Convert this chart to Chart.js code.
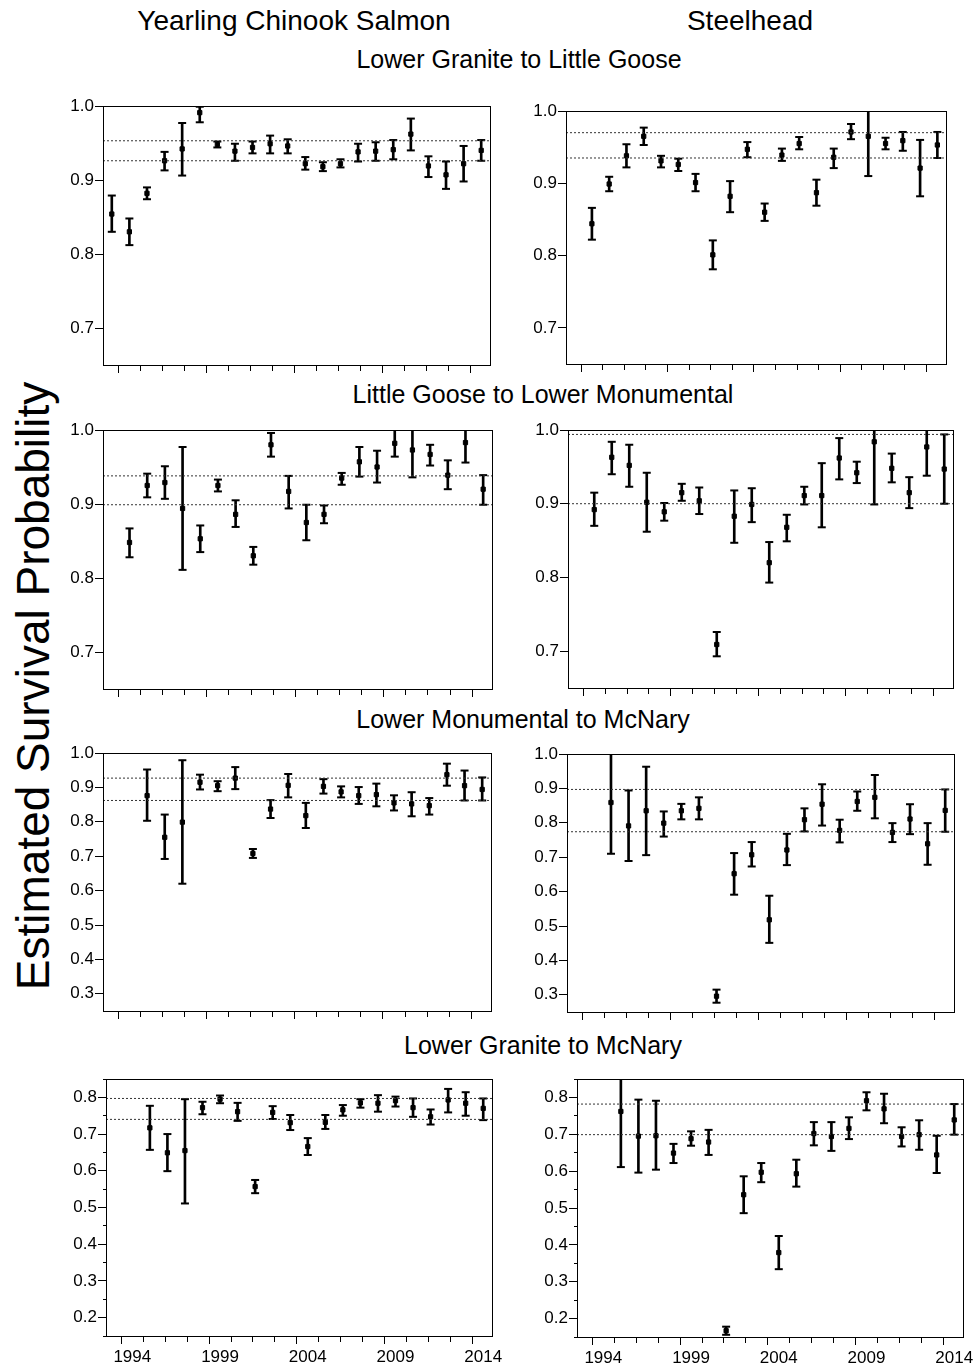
<!DOCTYPE html>
<html>
<head>
<meta charset="utf-8">
<title>Estimated survival probability</title>
<script src="https://cdn.jsdelivr.net/npm/chart.js@4.4.1/dist/chart.umd.min.js"></script>
<style>
  body { margin: 0; background: #fff; }
  #page { position: relative; width: 978px; height: 1368px; overflow: hidden;
          font-family: 'Liberation Sans', Arial, sans-serif; color: #000; }
  .lbl { position: absolute; white-space: nowrap; transform: translate(-50%, -50%); }
  #ylab { transform: translate(-50%, -50%) rotate(-90deg); }
  canvas { position: absolute; }
</style>
</head>
<body>
<div id="page">
  <div class="lbl" style="left:294px;top:21px;font-size:28px">Yearling Chinook Salmon</div>
  <div class="lbl" style="left:750px;top:21px;font-size:28px">Steelhead</div>
  <div class="lbl" style="left:519px;top:59px;font-size:25px">Lower Granite to Little Goose</div>
  <div class="lbl" style="left:543px;top:394px;font-size:25px">Little Goose to Lower Monumental</div>
  <div class="lbl" style="left:523px;top:719px;font-size:25px">Lower Monumental to McNary</div>
  <div class="lbl" style="left:543px;top:1045px;font-size:25px">Lower Granite to McNary</div>
  <div class="lbl" id="ylab" style="left:33px;top:686px;font-size:46px">Estimated Survival Probability</div>
</div>
<script>
/* ---------- data: migration years 1993-2014, null = no estimate ---------- */
const years = [1993, 1994, 1995, 1996, 1997, 1998, 1999, 2000, 2001, 2002, 2003,
               2004, 2005, 2006, 2007, 2008, 2009, 2010, 2011, 2012, 2013, 2014];
const yearLabels = [1994, 1999, 2004, 2009, 2014];
const xTickValues = [1992.75, 1994, 1995.25, 1996.5, 1997.75, 1999, 2000.25, 2001.5, 2002.75,
                     2004, 2005.25, 2006.5, 2007.75, 2009, 2010.25, 2011.5, 2012.75, 2014];
const upperTicks = [0.7, 0.8, 0.9, 1.0];
const middleTicks = [0.3, 0.4, 0.5, 0.6, 0.7, 0.8, 0.9, 1.0];
const lowerTicks = [0.15, 0.2, 0.25, 0.3, 0.35, 0.4, 0.45, 0.5, 0.55, 0.6, 0.65, 0.7, 0.75, 0.8, 0.85];

// Lower Granite to Little Goose
const chinookLgrLgoEst = [0.854, 0.830, 0.882, 0.926, 0.942, 0.991, 0.948, 0.939, 0.944, 0.949, 0.946, 0.922, 0.918, 0.922, 0.938, 0.939, 0.941, 0.962, 0.919, 0.907, 0.922, 0.940];
const chinookLgrLgoLo  = [0.830, 0.812, 0.874, 0.913, 0.906, 0.978, 0.944, 0.926, 0.936, 0.936, 0.936, 0.914, 0.912, 0.917, 0.925, 0.926, 0.928, 0.940, 0.904, 0.888, 0.898, 0.926];
const chinookLgrLgoHi  = [0.879, 0.848, 0.890, 0.938, 0.977, 0.999, 0.952, 0.949, 0.952, 0.960, 0.955, 0.931, 0.924, 0.928, 0.949, 0.951, 0.954, 0.983, 0.932, 0.925, 0.946, 0.954];
const chinookLgrLgoRef = [0.926, 0.953];

const steelLgrLgoEst = [null, 0.844, 0.899, 0.938, 0.965, 0.931, 0.926, 0.901, 0.801, 0.882, 0.947, 0.860, 0.939, 0.955, 0.887, 0.936, 0.971, 0.965, 0.955, 0.959, 0.921, 0.953];
const steelLgrLgoLo  = [null, 0.822, 0.889, 0.922, 0.953, 0.922, 0.917, 0.889, 0.781, 0.860, 0.936, 0.848, 0.931, 0.947, 0.869, 0.921, 0.961, 0.910, 0.947, 0.945, 0.882, 0.935];
const steelLgrLgoHi  = [null, 0.866, 0.909, 0.954, 0.977, 0.938, 0.934, 0.913, 0.821, 0.903, 0.957, 0.872, 0.948, 0.964, 0.905, 0.948, 0.982, 1.020, 0.963, 0.971, 0.960, 0.971];
const steelLgrLgoRef = [0.935, 0.970];

// Little Goose to Lower Monumental
const chinookLgoLmnEst = [null, 0.848, 0.925, 0.929, 0.894, 0.853, 0.925, 0.886, 0.830, 0.980, 0.917, 0.875, 0.886, 0.935, 0.957, 0.950, 0.982, 0.973, 0.967, 0.939, 0.983, 0.920];
const chinookLgoLmnLo  = [null, 0.828, 0.909, 0.907, 0.811, 0.835, 0.917, 0.869, 0.818, 0.964, 0.894, 0.851, 0.874, 0.926, 0.937, 0.929, 0.964, 0.936, 0.952, 0.920, 0.956, 0.899];
const chinookLgoLmnHi  = [null, 0.867, 0.941, 0.951, 0.977, 0.871, 0.933, 0.905, 0.842, 0.996, 0.938, 0.899, 0.898, 0.942, 0.977, 0.972, 1.000, 1.020, 0.980, 0.959, 1.000, 0.939];
const chinookLgoLmnRef = [0.899, 0.938];

const steelLgoLmnEst = [null, 0.892, 0.963, 0.952, 0.902, 0.889, 0.915, 0.904, 0.709, 0.883, 0.899, 0.820, 0.868, 0.911, 0.911, 0.962, 0.942, 0.984, 0.948, 0.915, 0.977, 0.947];
const steelLgoLmnLo  = [null, 0.870, 0.940, 0.923, 0.862, 0.877, 0.904, 0.886, 0.693, 0.847, 0.875, 0.793, 0.849, 0.899, 0.868, 0.933, 0.928, 0.899, 0.929, 0.894, 0.938, 0.900];
const steelLgoLmnHi  = [null, 0.915, 0.984, 0.980, 0.942, 0.901, 0.927, 0.922, 0.726, 0.918, 0.921, 0.848, 0.885, 0.923, 0.955, 0.989, 0.957, 1.020, 0.968, 0.936, 1.020, 0.994];
const steelLgoLmnRef = [0.900, 0.994];

// Lower Monumental to McNary
const chinookLmnMcnEst = [null, null, 0.876, 0.755, 0.799, 0.915, 0.905, 0.927, 0.708, 0.837, 0.906, 0.818, 0.903, 0.887, 0.876, 0.879, 0.855, 0.852, 0.847, 0.937, 0.905, 0.894];
const chinookLmnMcnLo  = [null, null, 0.803, 0.692, 0.620, 0.894, 0.889, 0.895, 0.695, 0.811, 0.871, 0.782, 0.882, 0.871, 0.852, 0.845, 0.833, 0.816, 0.821, 0.905, 0.862, 0.862];
const chinookLmnMcnHi  = [null, null, 0.952, 0.821, 0.979, 0.937, 0.918, 0.959, 0.721, 0.863, 0.939, 0.855, 0.924, 0.903, 0.901, 0.911, 0.877, 0.886, 0.869, 0.969, 0.949, 0.929];
const chinookLmnMcnRef = [0.862, 0.927];

const steelLmnMcnEst = [null, null, 0.859, 0.791, 0.835, 0.799, 0.835, 0.842, 0.296, 0.652, 0.707, 0.518, 0.721, 0.809, 0.854, 0.778, 0.862, 0.874, 0.772, 0.811, 0.739, 0.836];
const steelLmnMcnLo  = [null, null, 0.710, 0.689, 0.706, 0.760, 0.810, 0.810, 0.277, 0.591, 0.673, 0.451, 0.677, 0.775, 0.792, 0.743, 0.835, 0.813, 0.744, 0.767, 0.678, 0.774];
const steelLmnMcnHi  = [null, null, 1.020, 0.894, 0.963, 0.833, 0.855, 0.874, 0.315, 0.712, 0.744, 0.588, 0.768, 0.842, 0.912, 0.809, 0.891, 0.939, 0.799, 0.854, 0.799, 0.897];
const steelLmnMcnRef = [0.774, 0.897];

// Lower Granite to McNary
const chinookLgrMcnEst = [null, null, 0.717, 0.649, 0.655, 0.772, 0.795, 0.761, 0.557, 0.759, 0.731, 0.666, 0.732, 0.766, 0.785, 0.784, 0.791, 0.772, 0.747, 0.793, 0.784, 0.770];
const chinookLgrMcnLo  = [null, null, 0.657, 0.599, 0.511, 0.754, 0.784, 0.736, 0.539, 0.741, 0.711, 0.643, 0.714, 0.750, 0.772, 0.761, 0.775, 0.747, 0.726, 0.759, 0.750, 0.738];
const chinookLgrMcnHi  = [null, null, 0.777, 0.700, 0.795, 0.788, 0.805, 0.785, 0.575, 0.776, 0.752, 0.689, 0.752, 0.779, 0.795, 0.806, 0.802, 0.797, 0.767, 0.823, 0.814, 0.797];
const chinookLgrMcnRef = [0.740, 0.797];

const steelLgrMcnEst = [null, null, 0.762, 0.695, 0.696, 0.649, 0.688, 0.679, 0.167, 0.536, 0.597, 0.379, 0.593, 0.702, 0.694, 0.716, 0.791, 0.769, 0.694, 0.699, 0.644, 0.739];
const steelLgrMcnLo  = [null, null, 0.611, 0.596, 0.604, 0.622, 0.669, 0.644, 0.156, 0.486, 0.570, 0.334, 0.558, 0.670, 0.655, 0.687, 0.765, 0.730, 0.667, 0.658, 0.595, 0.699];
const steelLgrMcnHi  = [null, null, 0.870, 0.794, 0.791, 0.674, 0.708, 0.712, 0.178, 0.586, 0.622, 0.424, 0.631, 0.733, 0.733, 0.746, 0.814, 0.810, 0.719, 0.738, 0.696, 0.782];
const steelLgrMcnRef = [0.699, 0.782];

/* ---------- panel layout (plot box in page pixels) ---------- */
const X_MIN = 1992.5, X_MAX = 2014.5;
const FONT = "'Liberation Sans', Arial, sans-serif";

const panels = [
  { box: [103, 106, 490, 365],  est: chinookLgrLgoEst, lo: chinookLgrLgoLo, hi: chinookLgrLgoHi, ref: chinookLgrLgoRef, y: [0.65, 1.0], ticks: upperTicks },
  { box: [566, 111, 946, 364],  est: steelLgrLgoEst,   lo: steelLgrLgoLo,   hi: steelLgrLgoHi,   ref: steelLgrLgoRef,   y: [0.65, 1.0], ticks: upperTicks },
  { box: [103, 430, 492, 689],  est: chinookLgoLmnEst, lo: chinookLgoLmnLo, hi: chinookLgoLmnHi, ref: chinookLgoLmnRef, y: [0.65, 1.0], ticks: upperTicks },
  { box: [568, 430, 953, 688],  est: steelLgoLmnEst,   lo: steelLgoLmnLo,   hi: steelLgoLmnHi,   ref: steelLgoLmnRef,   y: [0.65, 1.0], ticks: upperTicks },
  { box: [103, 753, 491, 1011], est: chinookLmnMcnEst, lo: chinookLmnMcnLo, hi: chinookLmnMcnHi, ref: chinookLmnMcnRef, y: [0.25, 1.0], ticks: middleTicks },
  { box: [567, 754, 954, 1012], est: steelLmnMcnEst,   lo: steelLmnMcnLo,   hi: steelLmnMcnHi,   ref: steelLmnMcnRef,   y: [0.25, 1.0], ticks: middleTicks },
  { box: [106, 1079, 492, 1336], est: chinookLgrMcnEst, lo: chinookLgrMcnLo, hi: chinookLgrMcnHi, ref: chinookLgrMcnRef, y: [0.15, 0.85], ticks: lowerTicks, years: true },
  { box: [577, 1079, 963, 1337], est: steelLgrMcnEst,   lo: steelLgrMcnLo,   hi: steelLgrMcnHi,   ref: steelLgrMcnRef,   y: [0.15, 0.85], ticks: lowerTicks, years: true }
];

// closes the plot box on the top and right sides
const framePlugin = {
  id: 'frame',
  afterDraw(chart) {
    const a = chart.chartArea, ctx = chart.ctx;
    ctx.save();
    ctx.strokeStyle = '#000';
    ctx.lineWidth = 1;
    ctx.strokeRect(a.left + 0.5, a.top + 0.5, a.right - a.left, a.bottom - a.top);
    ctx.restore();
  }
};

const isTenth = v => Math.abs(v * 10 - Math.round(v * 10)) < 1e-6;

function points(vals) {
  return years.map((yr, i) => vals[i] == null ? null : { x: yr, y: vals[i] }).filter(Boolean);
}
function spans(lo, hi) {
  return years.map((yr, i) => lo[i] == null ? null : { x: yr, y: [lo[i], hi[i]] }).filter(Boolean);
}

function refLine(v) {
  return {
    type: 'line',
    data: [{ x: X_MIN, y: v }, { x: X_MAX, y: v }],
    borderColor: '#333', borderWidth: 1, borderDash: [2, 2],
    pointRadius: 0, clip: 0
  };
}

function capSet(vals) {
  return {
    data: points(vals),
    pointStyle: 'line', pointRadius: 4, pointBorderWidth: 2,
    pointBorderColor: '#000', pointBackgroundColor: '#000', clip: 0
  };
}

function drawPanel(p) {
  const [l, t, r, b] = p.box;
  const padL = 60, padT = 20, padR = 30, padB = 32;
  const canvas = document.createElement('canvas');
  canvas.width = r - l + padL + padR;
  canvas.height = b - t + padT + padB;
  canvas.style.left = (l - padL) + 'px';
  canvas.style.top = (t - padT) + 'px';
  document.getElementById('page').appendChild(canvas);

  new Chart(canvas, {
    type: 'scatter',
    data: {
      datasets: [
        refLine(p.ref[0]),
        refLine(p.ref[1]),
        { type: 'bar', data: spans(p.lo, p.hi), backgroundColor: '#000', barThickness: 2, clip: 0 },
        capSet(p.lo),
        capSet(p.hi),
        {
          data: points(p.est),
          pointStyle: 'rect', pointRadius: 3, pointBorderWidth: 1,
          pointBorderColor: '#000', pointBackgroundColor: '#000', clip: 0
        }
      ]
    },
    options: {
      responsive: false,
      animation: false,
      events: [],
      devicePixelRatio: 1,
      layout: { padding: { left: 0, top: padT, right: padR, bottom: 0 } },
      plugins: { legend: { display: false }, tooltip: { enabled: false } },
      scales: {
        x: {
          type: 'linear', min: X_MIN, max: X_MAX, offset: false,
          afterBuildTicks: s => { s.ticks = xTickValues.map(v => ({ value: v })); },
          afterFit: s => { s.height = padB; },
          border: { color: '#000', width: 1 },
          grid: {
            drawOnChartArea: false, color: '#000', tickLength: 8,
            tickBorderDash: c => (c.tick && yearLabels.includes(c.tick.value)) ? [] : [5, 20]
          },
          ticks: {
            autoSkip: false, maxRotation: 0, minRotation: 0, padding: 3,
            color: '#000', font: { family: FONT, size: 17 },
            callback: v => (p.years && yearLabels.includes(v)) ? String(v) : ''
          }
        },
        y: {
          type: 'linear', min: p.y[0], max: p.y[1],
          afterBuildTicks: s => { s.ticks = p.ticks.map(v => ({ value: v })); },
          afterFit: s => { s.width = padL; },
          border: { color: '#000', width: 1 },
          grid: {
            drawOnChartArea: false, color: '#000', tickLength: 8,
            tickBorderDash: c => (c.tick && !isTenth(c.tick.value)) ? [0, 5, 3, 20] : []
          },
          ticks: {
            autoSkip: false, padding: 1, color: '#000', font: { family: FONT, size: 17 },
            callback: v => isTenth(v) ? v.toFixed(1) : ''
          }
        }
      }
    },
    plugins: [framePlugin]
  });
}

panels.forEach(drawPanel);
</script>
</body>
</html>
